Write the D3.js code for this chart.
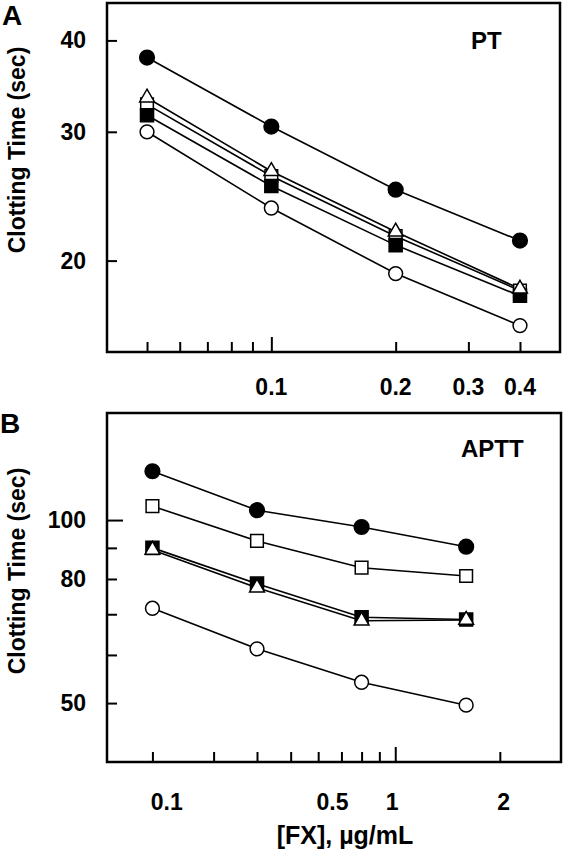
<!DOCTYPE html>
<html><head><meta charset="utf-8">
<script src="https://cdn.jsdelivr.net/npm/d3@7"></script>
<style>
body{margin:0;background:#fff}
text{font-family:"Liberation Sans",Arial,Helvetica,sans-serif;font-weight:bold;fill:#000}
</style></head>
<body><svg id="chart" width="564" height="852"></svg>
<script>
// ---------- Panel A (PT) ----------
const ptConc = [0.05, 0.1, 0.2, 0.4];
const ptFilledCircle = [37.9, 30.5, 25.0, 21.3];
const ptOpenSquare   = [32.7, 26.1, 21.6, 18.2];
const ptOpenTriangle = [33.4, 26.5, 21.9, 18.3];
const ptFilledSquare = [31.6, 25.3, 21.0, 17.9];
const ptOpenCircle   = [30.0, 23.6, 19.2, 16.3];
const ptYTicks = [20, 30, 40];
const ptXTicks = [0.05, 0.06, 0.07, 0.08, 0.09, 0.1, 0.2, 0.3, 0.4];
const ptXLabels = [0.1, 0.2, 0.3, 0.4];

// ---------- Panel B (APTT) ----------
const apttConc = [0.2, 0.4, 0.8, 1.6];
const apttFilledCircle = [120.3, 103.8, 97.4, 90.4];
const apttOpenSquare   = [105.4, 92.4, 83.5, 80.9];
const apttFilledSquare = [90.0, 78.6, 69.2, 68.6];
const apttOpenTriangle = [89.3, 77.4, 68.3, 68.5];
const apttOpenCircle   = [71.6, 61.4, 54.1, 49.6];
const apttYTicks = [50, 60, 70, 80, 90, 100];
const apttYLabels = [50, 80, 100];
const apttXTicks = [0.2, 0.3, 0.4, 0.5, 0.6, 0.7, 0.8, 0.9, 1, 2];
const apttXLabelText = ["0.1", "0.5", "1", "2"];
const apttXLabelAt = [0.22, 0.66, 0.98, 2.05];

const svg = d3.select("#chart");

function panel(cfg) {
  const g = svg.append("g");
  const x = d3.scaleLog().domain(cfg.xDomain).range([cfg.left, cfg.right]);
  const y = d3.scaleLog().domain(cfg.yDomain).range([cfg.bottom, cfg.top]);

  // x ticks (inward)
  g.append("g").attr("transform", `translate(0,${cfg.bottom})`)
    .call(d3.axisBottom(x).tickValues(cfg.xTicks).tickFormat("").tickSizeOuter(0)
      .tickSizeInner(0))
    .call(a => a.select(".domain").remove())
    .call(a => a.selectAll(".tick line")
      .attr("y2", d => -(cfg.xLong.includes(d) ? 15 : 10))
      .attr("stroke", "#000").attr("stroke-width", 2));
  // y ticks (inward)
  g.append("g").attr("transform", `translate(${cfg.left},0)`)
    .call(d3.axisLeft(y).tickValues(cfg.yTicks).tickFormat("").tickSizeOuter(0).tickSizeInner(0))
    .call(a => a.select(".domain").remove())
    .call(a => a.selectAll(".tick line")
      .attr("x2", d => (cfg.yLong.includes(d) ? 16 : 10))
      .attr("stroke", "#000").attr("stroke-width", 2));

  // frame
  g.append("rect").attr("x", cfg.left).attr("y", cfg.top)
    .attr("width", cfg.right - cfg.left).attr("height", cfg.bottom - cfg.top)
    .attr("fill", "none").attr("stroke", "#000").attr("stroke-width", 2.5);

  // y labels
  g.selectAll(".yl").data(cfg.yLabels).join("text")
    .attr("x", cfg.left - 21).attr("y", d => y(d) + 8)
    .attr("text-anchor", "end").attr("font-size", 23).text(d => d);
  // x labels
  g.selectAll(".xl").data(cfg.xLabelAt).join("text")
    .attr("x", d => x(d)).attr("y", cfg.xLabelY)
    .attr("text-anchor", "middle").attr("font-size", 23)
    .text((d, i) => cfg.xLabelText[i]);

  // y title
  g.append("text").attr("transform", `translate(25,${cfg.yTitleY}) rotate(-90)`)
    .attr("text-anchor", "middle").attr("font-size", 23).text("Clotting Time (sec)");
  // panel letter
  g.append("text").attr("x", cfg.letterX).attr("y", cfg.letterY)
    .attr("font-size", 28).text(cfg.letter);
  // test label
  g.append("text").attr("x", cfg.tagX).attr("y", cfg.tagY)
    .attr("font-size", 24).text(cfg.tag);

  const line = d3.line().x((d, i) => x(cfg.conc[i])).y(d => y(d));
  const order = ["openCircle", "openSquare", "filledSquare", "openTriangle", "filledCircle"];
  order.forEach(k => {
    g.append("path").datum(cfg.series[k]).attr("d", line)
      .attr("fill", "none").attr("stroke", "#000").attr("stroke-width", 1.6);
  });
  const sym = {
    filledCircle: [d3.symbolCircle, 170, "#000"],
    openCircle: [d3.symbolCircle, 150, "#fff"],
    filledSquare: [d3.symbolSquare, 170, "#000"],
    openSquare: [d3.symbolSquare, 160, "#fff"],
    openTriangle: [d3.symbolTriangle, 95, "#fff"]
  };
  order.forEach(k => {
    const [type, size, fill] = sym[k];
    g.selectAll(null).data(cfg.series[k]).join("path")
      .attr("transform", (d, i) => `translate(${x(cfg.conc[i])},${y(d)})`)
      .attr("d", d3.symbol().type(type).size(size))
      .attr("fill", fill).attr("stroke", "#000").attr("stroke-width", 1.5);
  });
}

panel({
  left: 107, right: 560, top: 3, bottom: 352,
  xDomain: [0.04, 0.5], yDomain: [15, 45],
  xTicks: ptXTicks, xLong: [0.1], yTicks: ptYTicks, yLong: [],
  yLabels: ptYTicks, xLabelAt: ptXLabels, xLabelText: ptXLabels.map(String), xLabelY: 395,
  yTitleY: 150, letter: "A", letterX: 2, letterY: 25, tag: "PT", tagX: 471, tagY: 49,
  conc: ptConc,
  series: { filledCircle: ptFilledCircle, openSquare: ptOpenSquare, openTriangle: ptOpenTriangle,
            filledSquare: ptFilledSquare, openCircle: ptOpenCircle }
});

panel({
  left: 107, right: 561, top: 413, bottom: 762,
  xDomain: [0.148, 3], yDomain: [40, 150],
  xTicks: apttXTicks, xLong: [1], yTicks: apttYTicks, yLong: [100],
  yLabels: apttYLabels, xLabelAt: apttXLabelAt, xLabelText: apttXLabelText, xLabelY: 810,
  yTitleY: 571, letter: "B", letterX: 0, letterY: 433, tag: "APTT", tagX: 461, tagY: 457,
  conc: apttConc,
  series: { filledCircle: apttFilledCircle, openSquare: apttOpenSquare, openTriangle: apttOpenTriangle,
            filledSquare: apttFilledSquare, openCircle: apttOpenCircle }
});

svg.append("text").attr("x", 345).attr("y", 844).attr("text-anchor", "middle")
  .attr("font-size", 25).text("[FX], µg/mL");
</script></body></html>
